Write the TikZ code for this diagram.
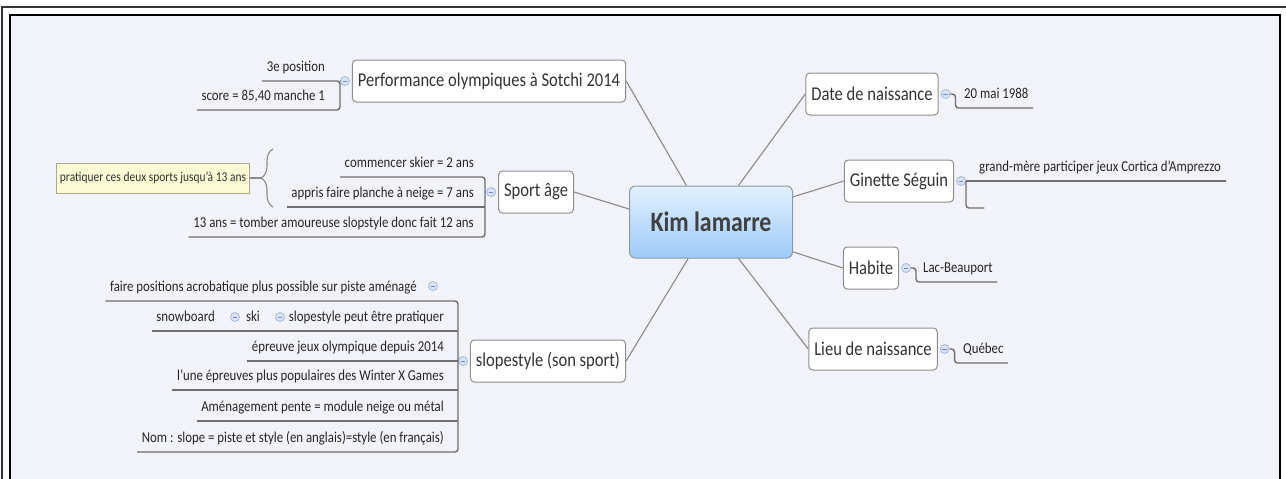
\documentclass[tikz,border=0pt]{standalone}
\usepackage{fontspec}
\setmainfont{Carlito}[FakeStretch=0.85]
\usetikzlibrary{decorations.pathreplacing}
\definecolor{mapbg}{HTML}{F2F3F8}
\definecolor{boxline}{HTML}{8E8E8E}
\definecolor{linkgray}{HTML}{8A8A8A}
\definecolor{leafgray}{HTML}{6E6E6E}
\definecolor{kimtop}{HTML}{E2F0FD}
\definecolor{kimbottom}{HTML}{9DCBFA}
\definecolor{kimline}{HTML}{8C99A6}
\definecolor{foldfill}{HTML}{D9E5F6}
\definecolor{foldline}{HTML}{A3B9DD}
\definecolor{notefill}{HTML}{FAFAD4}
\definecolor{noteline}{HTML}{A9A98C}
\tikzset{
    topic/.style={draw=boxline, fill=white, rounded corners=4pt, line width=1pt, inner xsep=5.5pt, minimum height=42pt, text=black!80, font=\fontsize{19.5}{22}\selectfont},
    central/.style={draw=kimline, top color=kimtop, bottom color=kimbottom, rounded corners=6pt, line width=1pt, minimum width=163pt, minimum height=72pt, text=black!75, font=\fontsize{28}{32}\selectfont\bfseries},
    leaf/.style={inner xsep=4.5pt, inner ysep=6pt, text height=10pt, text depth=3pt, text=black!85, font=\fontsize{15.1}{17}\selectfont},
    note/.style={draw=noteline, fill=notefill, line width=1pt, inner xsep=3pt, minimum height=30pt, text=black!80, font=\fontsize{13.5}{16}\selectfont},
    fold/.style={circle, draw=foldline, fill=foldfill, line width=0.8pt, minimum size=9pt, inner sep=0pt,
        path picture={\draw[foldline!70!blue, line width=0.8pt] ([xshift=-2.2pt]path picture bounding box.center) -- ([xshift=2.2pt]path picture bounding box.center);}},
    link/.style={draw=linkgray, line width=1.1pt},
    underline/.style={draw=leafgray, line width=1.4pt, rounded corners=3pt},
}
\begin{document}
\begin{tikzpicture}[x=1pt, y=-1pt]
\useasboundingbox (0,0) rectangle (1286,479);
\draw[line width=1.5pt, black!80] (2,479) -- (2,7) -- (1286,7);
\fill[mapbg] (10,15) rectangle (1280,479);
\draw[line width=2pt] (10,479) -- (10,15) -- (1280,15) -- (1280,479);

\node[central] (kim) at (711,222) {Kim lamarre};

% left side
\node[topic] (perf) at (489,81) {Performance olympiques à Sotchi 2014};
\node[fold, anchor=east] (pfold) at ([xshift=-2pt]perf.west) {};
\node[leaf, anchor=south east] (p1) at (329.5,81) {3e position};
\node[leaf, anchor=south east] (p2) at (329.5,110) {score = 85,40 manche 1};
\coordinate (ptrunk) at (340,81);
\draw[underline] (p1.south west) -- (ptrunk) -- (ptrunk |- p2.south) -- (p2.south west);
\draw[link] (ptrunk) -- (pfold.west);

\node[topic] (sport) at (536,192) {Sport âge};
\node[fold, anchor=east] (sfold) at ([xshift=-2pt]sport.west) {};
\node[leaf, anchor=south east] (s1) at (478.5,177) {commencer skier = 2 ans};
\node[leaf, anchor=south east] (s2) at (478.5,207) {appris faire planche à neige = 7 ans};
\node[leaf, anchor=south east] (s3) at (478.5,237) {13 ans = tomber amoureuse slopstyle donc fait 12 ans};
\coordinate (strunk) at (485,192);
\draw[underline] (s1.south west) -- (s1.south -| strunk) -- (s3.south -| strunk) -- (s3.south west);
\draw[underline] (s2.south west) -- (s2.south -| strunk);
\draw[link] (strunk) -- (sfold.west);
\node[note] (note) at (153,178) {pratiquer ces deux sports jusqu'à 13 ans};
\coordinate (bracetip) at (261,178);
\draw[link, decorate, decoration={brace, amplitude=12pt}] (273,207) -- (273,149);
\draw[link] (note.east) -- (bracetip);

\node[topic] (slope) at (548,361) {slopestyle (son sport)};
\node[fold, anchor=east] (lfold) at ([xshift=-2pt]slope.west) {};
\node[leaf, anchor=south east] (l1) at (421.5,301) {faire positions acrobatique plus possible sur piste aménagé};
\node[fold] (l1fold) at (433,286) {};
\node[leaf, anchor=south east] (l2) at (448.5,331) {slopestyle peut être pratiquer};
\node[fold] (l2fold) at (280,317) {};
\node[leaf, anchor=south east] (l2ski) at (264.5,331) {ski};
\node[fold] (l2skifold) at (235,317) {};
\node[leaf, anchor=south east] (l2snow) at (219.5,331) {snowboard};
\node[leaf, anchor=south east] (l3) at (448.5,361) {épreuve jeux olympique depuis 2014};
\node[leaf, anchor=south east] (l4) at (448.5,390) {l'une épreuves plus populaires des Winter X Games};
\node[leaf, anchor=south east] (l5) at (448.5,421) {Aménagement pente = module neige ou métal};
\node[leaf, anchor=south east] (l6) at (448.5,452) {Nom : slope = piste et style (en anglais)=style (en français)};
\coordinate (ltrunk) at (458,361);
\draw[underline] (l1.south west) -- (l1.south -| ltrunk) -- (l6.south -| ltrunk) -- (l6.south west);
\draw[underline] (l2snow.south west) -- (l2.south -| ltrunk);
\draw[underline] (l3.south west) -- (l3.south -| ltrunk);
\draw[underline] (l4.south west) -- (l4.south -| ltrunk);
\draw[underline] (l5.south west) -- (l5.south -| ltrunk);
\draw[link] (ltrunk) -- (lfold.west);

% right side
\node[topic] (date) at (872,94) {Date de naissance};
\node[fold, anchor=west] (dfold) at ([xshift=2pt]date.east) {};
\node[leaf, anchor=south west] (dl) at (959.5,108) {20 mai 1988};
\draw[underline] (dfold.east) -- ++(5,0) |- (dl.south east);

\node[topic] (gin) at (899,181) {Ginette Séguin};
\node[fold, anchor=west] (gfold) at ([xshift=2pt]gin.east) {};
\node[leaf, anchor=south west] (gl) at (974.5,181) {grand-mère participer jeux Cortica d'Amprezzo};
\node[leaf, anchor=south west, minimum width=13pt] (ge) at (971,208) {};
\draw[underline] (gfold.east) -- (gl.south east);
\draw[underline] (gfold.east) |- (ge.south east);

\node[topic] (hab) at (871,268) {Habite};
\node[fold, anchor=west] (hfold) at ([xshift=2pt]hab.east) {};
\node[leaf, anchor=south west] (hl) at (918.5,282) {Lac-Beauport};
\draw[underline] (hfold.east) -- ++(5,0) |- (hl.south east);

\node[topic] (lieu) at (873,349) {Lieu de naissance};
\node[fold, anchor=west] (qfold) at ([xshift=2pt]lieu.east) {};
\node[leaf, anchor=south west] (ql) at (958.5,363) {Québec};
\draw[underline] (qfold.east) -- ++(5,0) |- (ql.south east);

\draw[link] (kim.124) -- (perf.east);
\draw[link] (kim.171) -- (sport.east);
\draw[link] (kim.238) -- (slope.east);
\draw[link] (kim.53) -- (date.west);
\draw[link] (kim.17) -- (gin.west);
\draw[link] (kim.340) -- (hab.west);
\draw[link] (kim.307) -- (lieu.west);
\end{tikzpicture}
\end{document}
